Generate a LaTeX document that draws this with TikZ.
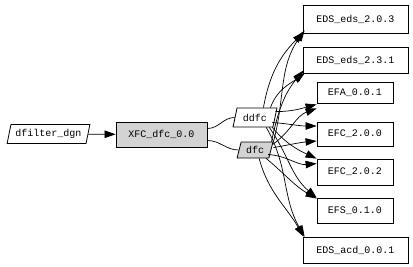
\documentclass[tikz,border=0pt]{standalone}
\usepackage{fontspec}
\setmonofont{Liberation Mono}
\usetikzlibrary{shapes.geometric,arrows.meta}
\definecolor{lgray}{HTML}{D3D3D3}
\tikzset{
  box/.style={draw, rectangle, inner sep=0pt, line width=0.8pt},
  para/.style={draw, trapezium, trapezium left angle=70, trapezium right angle=110,
    trapezium stretches=true, inner sep=0pt, line width=0.8pt},
  edge/.style={line width=0.7pt},
  arr/.style={edge, -{Triangle[length=11pt,width=7.5pt]}},
}
\begin{document}
\begin{tikzpicture}[x=1pt,y=-1pt, font=\fontsize{10}{12}\selectfont\ttfamily]
\useasboundingbox (0,0) rectangle (413,266);
\node[para, minimum width=83pt, minimum height=19pt] (dg) at (48.5,134) {dfilter\_dgn};
\node[box, fill=lgray, minimum width=91pt, minimum height=25pt] (xfc) at (161.5,134.5) {XFC\_dfc\_0.0};
\node[para, minimum width=44pt, minimum height=19pt, fill=white] (ddfc) at (255,117.5) {ddfc};
\node[para, minimum width=36pt, minimum height=16pt, fill=lgray] (dfc) at (255,150) {dfc};
\node[box, minimum width=105pt, minimum height=28pt] (e1) at (355.5,19) {EDS\_eds\_2.0.3};
\node[box, minimum width=105pt, minimum height=26pt] (e2) at (355.5,60) {EDS\_eds\_2.3.1};
\node[box, minimum width=76pt, minimum height=21pt] (e3) at (355,92.5) {EFA\_0.0.1};
\node[box, minimum width=76pt, minimum height=24pt] (e4) at (355,134) {EFC\_2.0.0};
\node[box, minimum width=76pt, minimum height=26pt] (e5) at (355,172) {EFC\_2.0.2};
\node[box, minimum width=76pt, minimum height=25pt] (e6) at (355,210.5) {EFS\_0.1.0};
\node[box, minimum width=105pt, minimum height=26pt] (e7) at (355.5,250) {EDS\_acd\_0.0.1};

\draw[arr] (dg) -- (xfc);
\draw[edge] ([yshift=6pt]xfc.east) to[out=0,in=180] (ddfc.west);
\draw[edge] ([yshift=-6pt]xfc.east) to[out=0,in=180] (dfc.west);

% from ddfc
\draw[arr] ([xshift=-14pt]ddfc.top right corner) to[out=80,in=225] ([xshift=1pt,yshift=1pt]e1.south west);
\draw[arr] ([xshift=-7pt]ddfc.top right corner) to[out=70,in=215] ([xshift=2pt,yshift=0pt]e2.south west);
\draw[arr] ([xshift=-2pt,yshift=-4pt]ddfc.top right corner) to[out=0,in=195] ([xshift=0pt,yshift=-1pt]e3.south west);
\draw[arr] ([xshift=-1pt,yshift=5pt]ddfc.bottom right corner) to[out=-5,in=180] ([yshift=8pt]e4.west);
\draw[arr] ([xshift=-1pt]ddfc.bottom right corner) to[out=-50,in=155] ([yshift=0pt]e5.north west);
\draw[arr] ([xshift=-4pt]ddfc.bottom right corner) to[out=-55,in=140] ([yshift=0pt]e6.north west);
\draw[arr] ([xshift=-7pt]ddfc.bottom right corner) to[out=-60,in=120] ([xshift=2pt]e7.north west);

% from dfc
\draw[arr] ([xshift=0pt]dfc.top right corner) to[out=75,in=235] ([xshift=2pt,yshift=3pt]e1.south west);
\draw[arr] ([xshift=-2pt]dfc.top right corner) to[out=78,in=230] ([xshift=1pt,yshift=3pt]e2.south west);
\draw[arr] ([xshift=-1pt,yshift=-3pt]dfc.top right corner) to[out=35,in=200] ([yshift=-5pt]e3.south west);
\draw[arr] ([xshift=0pt,yshift=-6pt]dfc.top right corner) to[out=10,in=185] ([yshift=-7pt]e4.west);
\draw[arr] ([xshift=-1pt,yshift=4pt]dfc.bottom right corner) to[out=-5,in=185] ([yshift=-5pt]e5.north west);
\draw[arr] ([xshift=-3pt]dfc.bottom right corner) to[out=-40,in=150] ([yshift=-1pt]e6.north west);
\draw[arr] ([xshift=-10pt]dfc.bottom right corner) to[out=-75,in=120] ([xshift=1pt]e7.north west);
\end{tikzpicture}
\end{document}
